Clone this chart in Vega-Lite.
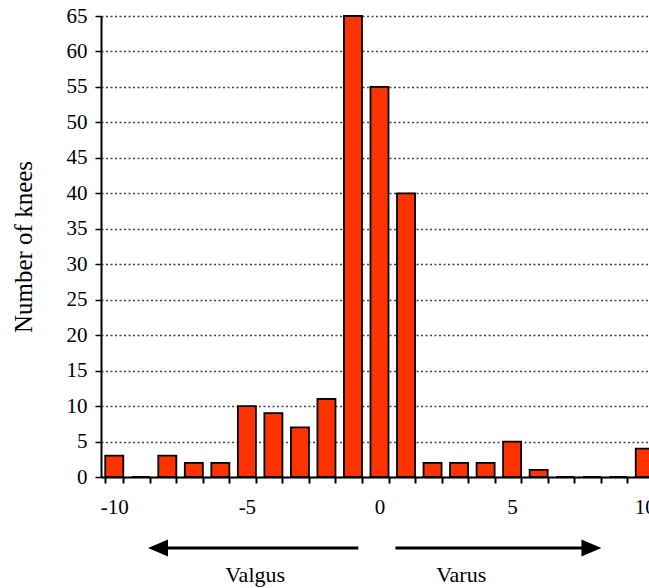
{
  "$schema": "https://vega.github.io/schema/vega-lite/v6.json",
  "width": 548,
  "height": 461,
  "autosize": "none",
  "padding": {"left": 101, "top": 16, "right": 0, "bottom": 111},
  "background": "white",
  "config": {
    "view": {"stroke": null},
    "font": "Liberation Serif",
    "axis": {
      "labelFont": "Liberation Serif",
      "labelFontSize": 21,
      "labelColor": "#000000",
      "labelOverlap": false,
      "domainColor": "#000000",
      "domainWidth": 2,
      "tickColor": "#000000",
      "tickSize": 6,
      "titleFont": "Liberation Serif",
      "titleFontWeight": "normal",
      "titleColor": "#000000"
    },
    "axisY": {
      "titleFontSize": 25,
      "titleX": -70,
      "titleBaseline": "alphabetic",
      "labelPadding": 8,
      "tickWidth": 1.5,
      "grid": true,
      "gridColor": "#444444",
      "gridDash": [2, 2.5],
      "gridWidth": 1.4
    },
    "axisX": {
      "labelPadding": 13,
      "tickWidth": 2,
      "grid": false,
      "labelAngle": 0
    }
  },
  "datasets": {
    "knees": [
      {"deg": -10, "n": 3}, {"deg": -9, "n": 0}, {"deg": -8, "n": 3}, {"deg": -7, "n": 2},
      {"deg": -6, "n": 2}, {"deg": -5, "n": 10}, {"deg": -4, "n": 9}, {"deg": -3, "n": 7},
      {"deg": -2, "n": 11}, {"deg": -1, "n": 65}, {"deg": 0, "n": 55}, {"deg": 1, "n": 40},
      {"deg": 2, "n": 2}, {"deg": 3, "n": 2}, {"deg": 4, "n": 2}, {"deg": 5, "n": 5},
      {"deg": 6, "n": 1}, {"deg": 7, "n": 0}, {"deg": 8, "n": 0}, {"deg": 9, "n": 0},
      {"deg": 10, "n": 4}
    ],
    "arrows": [
      {"dir": "left", "start": -0.8, "end": -8.35, "level": -10, "label": "Valgus", "label_x": -4.69, "label_y": -13.8},
      {"dir": "right", "start": 0.6, "end": 7.99, "level": -10, "label": "Varus", "label_x": 3.08, "label_y": -13.8}
    ]
  },
  "layer": [
    {
      "data": {"name": "knees"},
      "mark": {"type": "bar", "fill": "#FF3300", "stroke": "#000000", "strokeWidth": 1.8},
      "encoding": {
        "x": {
          "field": "deg",
          "type": "ordinal",
          "scale": {
            "domain": [-10, -9, -8, -7, -6, -5, -4, -3, -2, -1, 0, 1, 2, 3, 4, 5, 6, 7, 8, 9, 10],
            "range": [0, 557],
            "paddingInner": 0.32,
            "paddingOuter": 0.16
          },
          "axis": {
            "title": null,
            "tickBand": "extent",
            "labelExpr": "datum.value % 5 === 0 ? datum.label : ''"
          }
        },
        "y": {
          "field": "n",
          "type": "quantitative",
          "scale": {"domain": [0, 65], "nice": false},
          "axis": {"title": "Number of knees", "values": [0, 5, 10, 15, 20, 25, 30, 35, 40, 45, 50, 55, 60, 65]}
        }
      }
    },
    {
      "data": {"name": "arrows"},
      "layer": [
        {
          "mark": {"type": "rule", "color": "#000000", "strokeWidth": 3},
          "encoding": {
            "x": {"field": "start", "type": "quantitative", "scale": {"domain": [-10.5, 10.5], "range": [0, 557], "nice": false, "zero": false}, "axis": null},
            "x2": {"field": "end"},
            "y": {"field": "level", "type": "quantitative", "axis": {"title": "Number of knees", "values": [0, 5, 10, 15, 20, 25, 30, 35, 40, 45, 50, 55, 60, 65]}}
          }
        },
        {
          "mark": {"type": "point", "filled": true, "color": "#000000", "size": 400, "opacity": 1},
          "encoding": {
            "x": {"field": "end", "type": "quantitative", "scale": {"domain": [-10.5, 10.5], "range": [0, 557], "nice": false, "zero": false}, "axis": null},
            "y": {"field": "level", "type": "quantitative", "axis": {"title": "Number of knees", "values": [0, 5, 10, 15, 20, 25, 30, 35, 40, 45, 50, 55, 60, 65]}},
            "shape": {
              "field": "dir",
              "type": "nominal",
              "scale": {"domain": ["left", "right"], "range": ["M -1 0 L 1 -0.85 L 1 0.85 Z", "M 1 0 L -1 -0.85 L -1 0.85 Z"]},
              "legend": null
            }
          }
        },
        {
          "mark": {"type": "text", "font": "Liberation Serif", "fontSize": 22, "color": "#000000", "baseline": "middle", "align": "center"},
          "encoding": {
            "x": {"field": "label_x", "type": "quantitative", "scale": {"domain": [-10.5, 10.5], "range": [0, 557], "nice": false, "zero": false}, "axis": null},
            "y": {"field": "label_y", "type": "quantitative", "axis": {"title": "Number of knees", "values": [0, 5, 10, 15, 20, 25, 30, 35, 40, 45, 50, 55, 60, 65]}},
            "text": {"field": "label"}
          }
        }
      ]
    }
  ],
  "resolve": {"scale": {"x": "independent", "shape": "independent"}, "axis": {"x": "independent"}}
}
